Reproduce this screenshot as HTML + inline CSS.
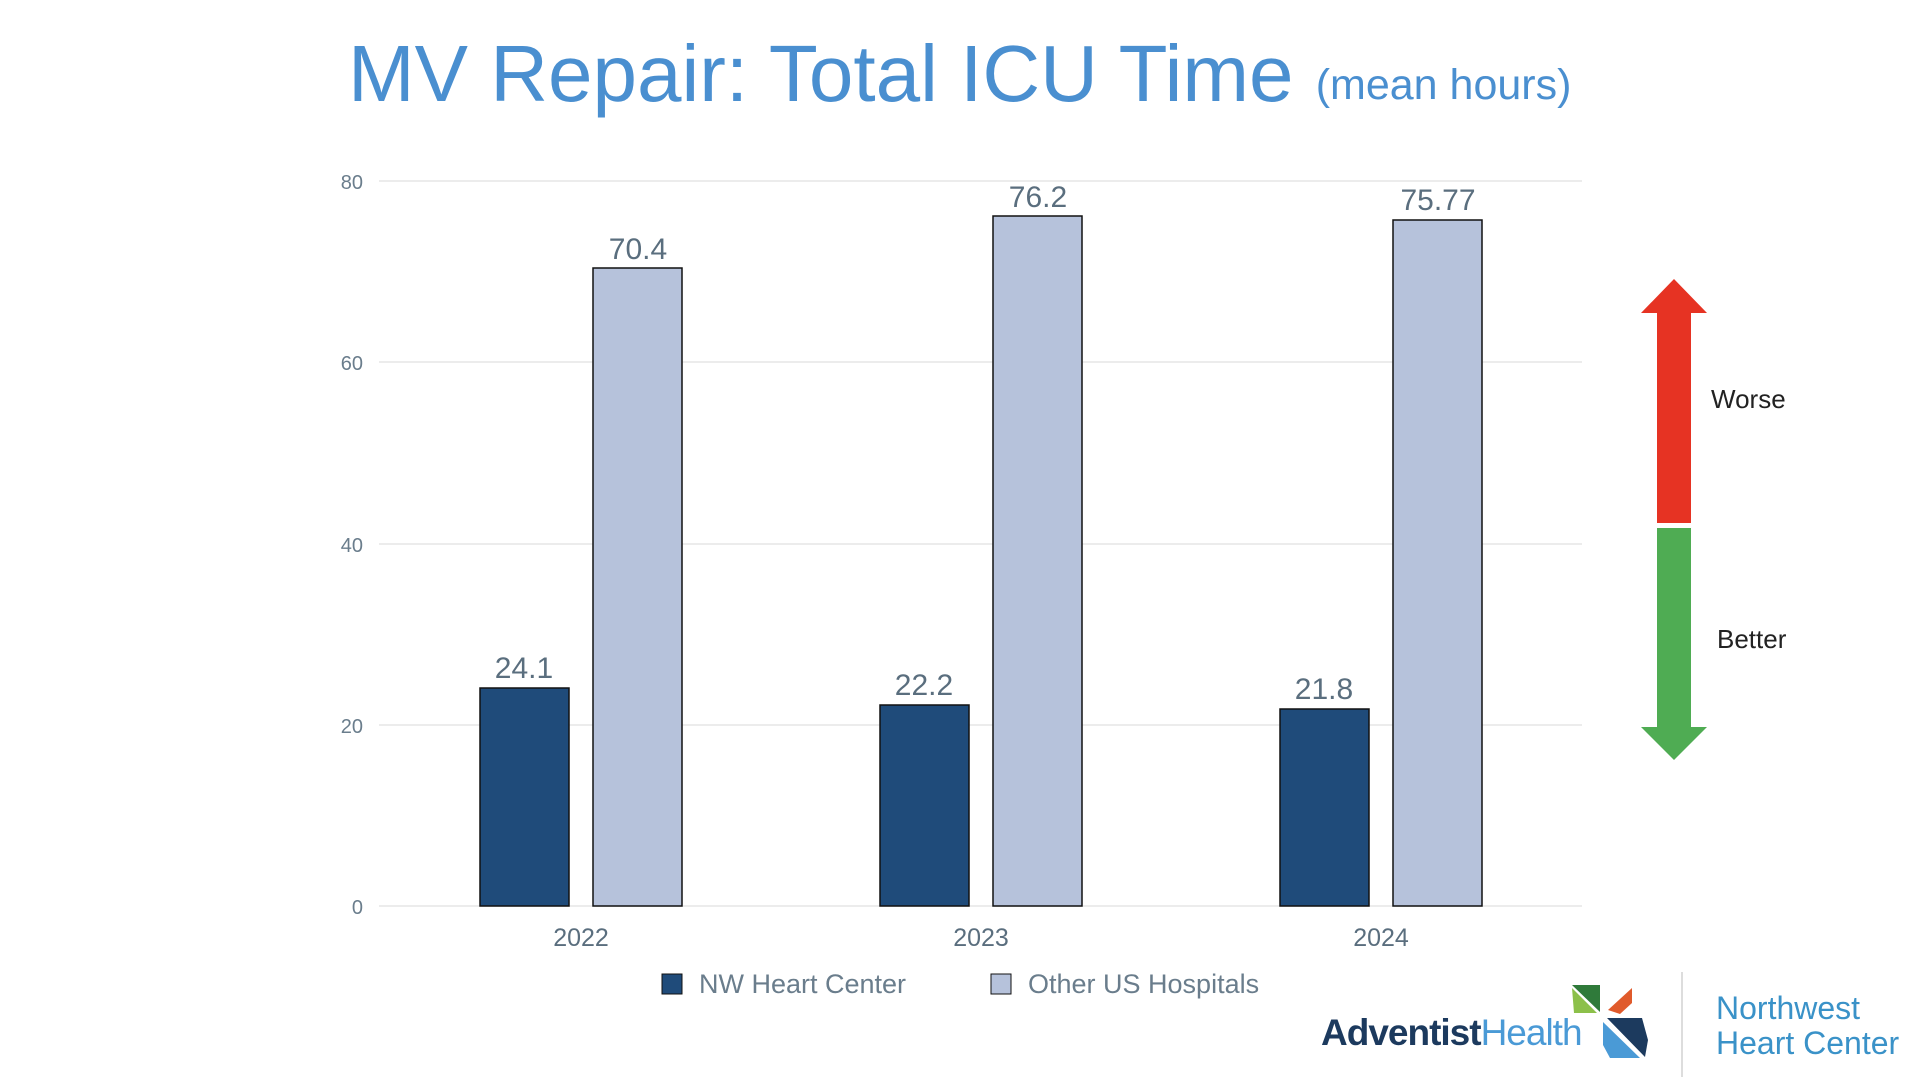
<!DOCTYPE html>
<html><head><meta charset="utf-8"><style>
body{margin:0;background:#fff;width:1920px;height:1080px;overflow:hidden}
svg{display:block}
</style></head><body>
<svg width="1920" height="1080" viewBox="0 0 1920 1080" font-family="Liberation Sans, sans-serif">
<text x="348" y="101" font-size="80" fill="#4a8fd0">MV Repair: Total ICU Time <tspan font-size="43" dy="-2">(mean hours)</tspan></text>
<g stroke="#e6e6e6" stroke-width="1.5">
<line x1="379" x2="1582" y1="181" y2="181"/><line x1="379" x2="1582" y1="362" y2="362"/>
<line x1="379" x2="1582" y1="544" y2="544"/><line x1="379" x2="1582" y1="725" y2="725"/>
<line x1="379" x2="1582" y1="906" y2="906"/></g>
<g font-size="20" fill="#6a7d8c" text-anchor="end">
<text x="363" y="189">80</text><text x="363" y="370">60</text><text x="363" y="552">40</text><text x="363" y="733">20</text><text x="363" y="914">0</text></g>
<g stroke="#111" stroke-width="1.5">
<rect x="480" y="688" width="89" height="218" fill="#1f4b7a"/>
<rect x="593" y="268" width="89" height="638" fill="#b6c2db"/>
<rect x="880" y="705" width="89" height="201" fill="#1f4b7a"/>
<rect x="993" y="216" width="89" height="690" fill="#b6c2db"/>
<rect x="1280" y="709" width="89" height="197" fill="#1f4b7a"/>
<rect x="1393" y="220" width="89" height="686" fill="#b6c2db"/>
</g>
<g font-size="30" fill="#5a6e7e" text-anchor="middle">
<text x="524" y="678">24.1</text><text x="638" y="259">70.4</text>
<text x="924" y="695">22.2</text><text x="1038" y="207">76.2</text>
<text x="1324" y="699">21.8</text><text x="1438" y="210">75.77</text></g>
<g font-size="25" fill="#5a6e7e" text-anchor="middle">
<text x="581" y="946">2022</text><text x="981" y="946">2023</text><text x="1381" y="946">2024</text></g>
<rect x="662" y="974" width="20" height="20" fill="#1f4b7a" stroke="#111"/>
<text x="699" y="993" font-size="27" fill="#6a7d8c">NW Heart Center</text>
<rect x="991" y="974" width="20" height="20" fill="#b6c2db" stroke="#111"/>
<text x="1028" y="993" font-size="27" fill="#6a7d8c">Other US Hospitals</text>
<polygon points="1674,279 1707,313 1691,313 1691,523 1657,523 1657,313 1641,313" fill="#e63323"/>
<polygon points="1657,528 1691,528 1691,727 1707,727 1674,760 1641,727 1657,727" fill="#4fac53"/>
<text x="1711" y="408" font-size="26" fill="#222">Worse</text>
<text x="1717" y="648" font-size="26" fill="#222">Better</text>
<text x="1321" y="1045" font-size="37" font-weight="bold" fill="#1c3a5e" letter-spacing="-1">Adventist<tspan fill="#4a9ad6" font-weight="normal">Health</tspan></text>
<polygon points="1572,985 1600,985 1600,1012" fill="#2f7a3a"/>
<polygon points="1572,988 1597,1013 1574,1013" fill="#8cc04a"/>
<polygon points="1608,1010 1632,988 1632,1003 1620,1014" fill="#e05a2b"/>
<polygon points="1607,1018 1642,1018 1648,1040 1645,1057" fill="#1c3a5e"/>
<polygon points="1603,1022 1640,1058 1610,1058 1603,1045" fill="#4a9ad6"/>
<line x1="1682" y1="972" x2="1682" y2="1077" stroke="#ddd" stroke-width="2"/>
<text x="1716" y="1019" font-size="32" fill="#3a92c8">Northwest</text>
<text x="1716" y="1054" font-size="32" fill="#3a92c8">Heart Center</text>
</svg>
</body></html>
